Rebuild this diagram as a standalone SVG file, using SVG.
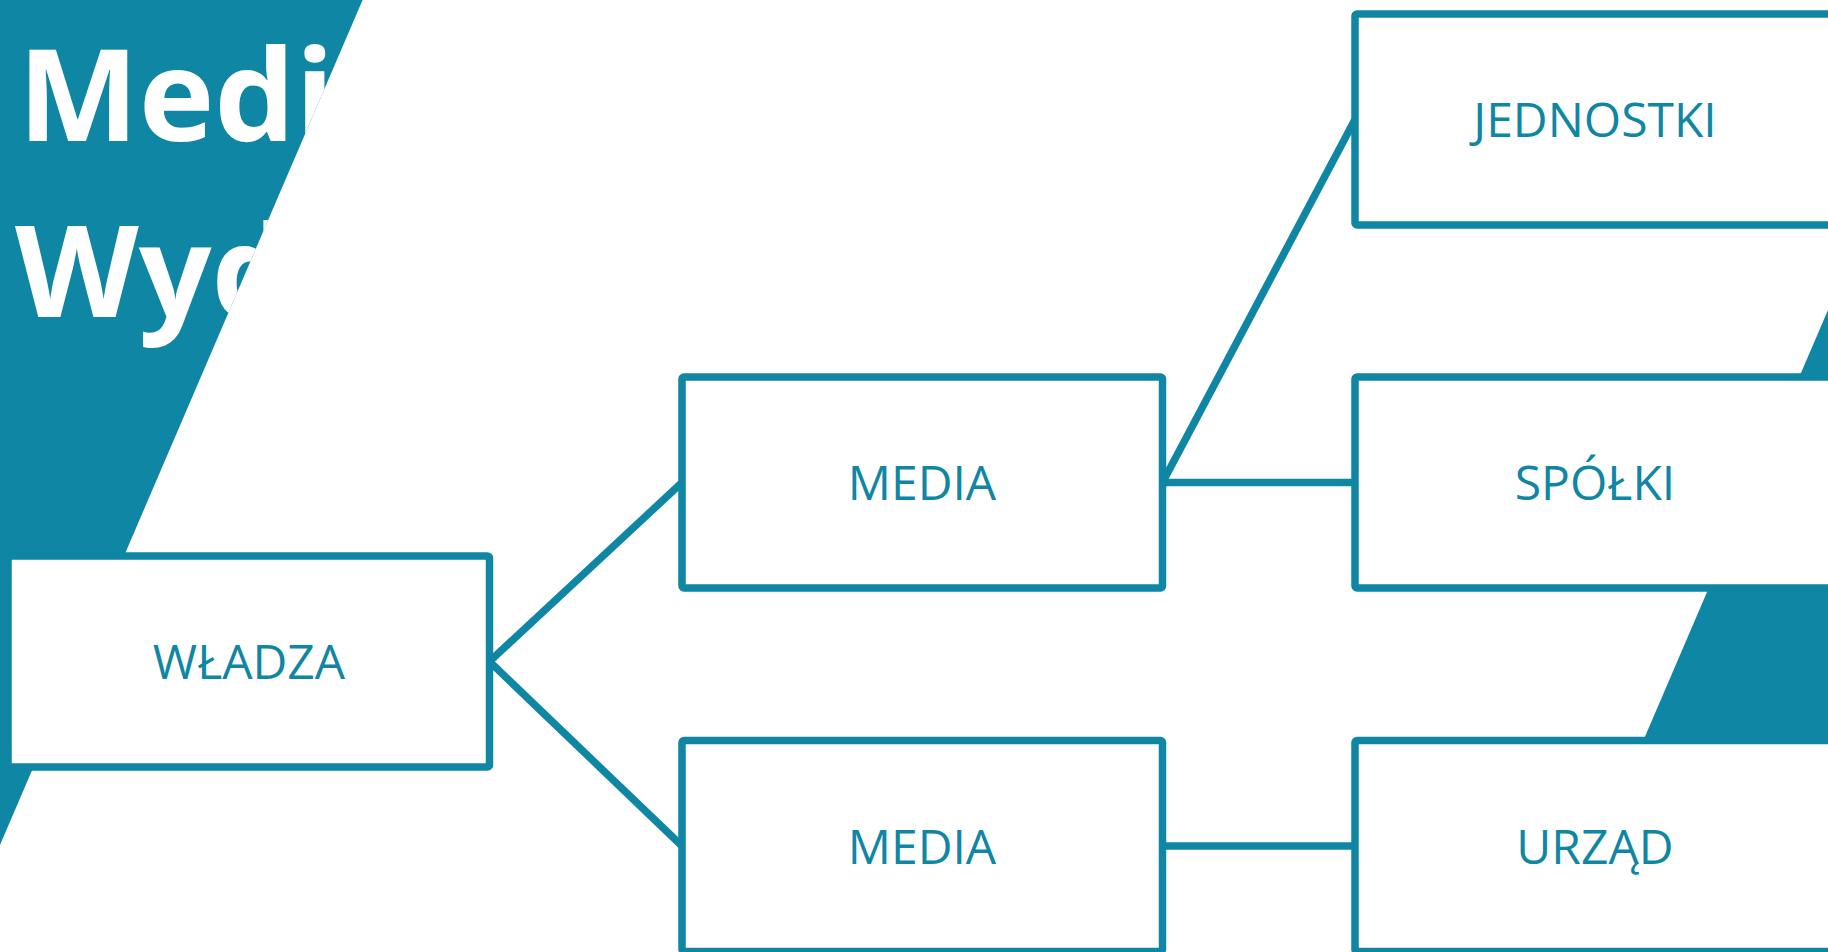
<svg xmlns="http://www.w3.org/2000/svg" width="1828" height="952" viewBox="0 0 1828 952">
  <defs>
    <style>
      .bg { fill: #0f86a3; }
      .box { fill: #ffffff; stroke: #0f86a3; stroke-width: 7.5; stroke-linejoin: round; }
      .lbl { font-family: "Open Sans", "Noto Sans", "Liberation Sans", sans-serif; font-size: 48px; font-weight: 400; fill: #0f86a3; text-anchor: middle; }
      .title { font-family: "Open Sans", "Noto Sans", "Liberation Sans", sans-serif; font-size: 128px; font-weight: 700; fill: #ffffff; }
      .conn { stroke: #0f86a3; stroke-width: 7.5; fill: none; stroke-linecap: butt; }
    </style>
    <clipPath id="triClip">
      <polygon points="0,0 362.6,0 0,845"/>
    </clipPath>
  </defs>
  <rect x="0" y="0" width="1828" height="952" fill="#ffffff"/>
  <g id="background">
    <polygon class="bg" points="0,0 362.6,0 0,845"/>
    <polygon class="bg" points="1828,310 1828,952 1552.6,952"/>
  </g>
  <g id="title" clip-path="url(#triClip)">
    <text class="title" x="18" y="141">Medi</text>
    <text class="title" x="15" y="317">Wyd</text>
  </g>
  <g id="connectors">
    <line class="conn" x1="489.5" y1="661.5" x2="682" y2="482.5"/>
    <line class="conn" x1="489.5" y1="661.5" x2="682" y2="846"/>
    <line class="conn" x1="1162.5" y1="482.5" x2="1355" y2="119.5"/>
    <line class="conn" x1="1162.5" y1="482.5" x2="1355" y2="482.5"/>
    <line class="conn" x1="1162.5" y1="846" x2="1355" y2="846"/>
  </g>
  <g id="node-wladza">
    <rect class="box" x="8" y="556" width="481.5" height="211" rx="2"/>
    <text class="lbl" x="249" y="679">WŁADZA</text>
  </g>
  <g id="node-media1">
    <rect class="box" x="682" y="377" width="480.5" height="211" rx="2"/>
    <text class="lbl" x="922" y="500">MEDIA</text>
  </g>
  <g id="node-media2">
    <rect class="box" x="682" y="740.5" width="480.5" height="211" rx="2"/>
    <text class="lbl" x="922" y="863.5">MEDIA</text>
  </g>
  <g id="node-jednostki">
    <rect class="box" x="1355" y="14" width="480" height="211" rx="2"/>
    <text class="lbl" x="1595" y="137">JEDNOSTKI</text>
  </g>
  <g id="node-spolki">
    <rect class="box" x="1355" y="377" width="480" height="211" rx="2"/>
    <text class="lbl" x="1595" y="500">SPÓŁKI</text>
  </g>
  <g id="node-urzad">
    <rect class="box" x="1355" y="740.5" width="480" height="211" rx="2"/>
    <text class="lbl" x="1595" y="863.5">URZĄD</text>
  </g>
</svg>
